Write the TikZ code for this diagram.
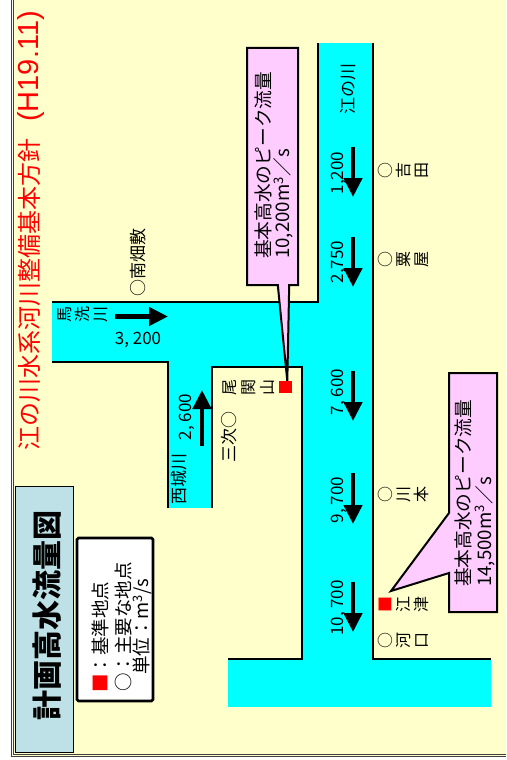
\documentclass[tikz,border=0pt]{standalone}
\usepackage{fontspec}
\setmainfont{Noto Sans CJK JP}
\newfontfamily\latinsans{Liberation Sans}
\usetikzlibrary{arrows.meta}
\definecolor{bgyellow}{HTML}{FFFFCC}
\definecolor{rivercyan}{HTML}{00FFFF}
\definecolor{calloutpink}{HTML}{FFCCFF}
\definecolor{titleblue}{HTML}{BDE1E6}
\definecolor{framegray}{HTML}{404040}
\definecolor{redmark}{HTML}{FF0000}
\tikzset{
  bank/.style={line width=2.6pt},
  callout/.style={draw=black, line width=2pt, fill=calloutpink, line join=miter},
  flow/.style={line width=4.5pt, -{Triangle[length=19pt,width=18pt]}},
  lbl/.style={rotate=90, inner sep=0pt, font=\fontsize{17}{17}\selectfont},
  num/.style={inner sep=0pt, font=\fontsize{17}{17}\selectfont},
  tate/.style={rotate=90, inner sep=0pt, align=center, font=\fontsize{16}{18}\selectfont},
  ctext/.style={rotate=90, inner sep=0pt, anchor=west, font=\fontsize{18.7}{18.7}\selectfont},
  leg/.style={rotate=90, inner sep=0pt, anchor=west, font=\fontsize{18.5}{18.5}\selectfont},
  redsq/.style={fill=redmark, inner sep=0pt, minimum size=12.5pt},
}
\begin{document}
\begin{tikzpicture}[x=1pt,y=-1pt]
\useasboundingbox (0,0) rectangle (506,760);
\fill[white] (0,0) rectangle (506,760);
\fill[bgyellow] (13,0) rectangle (506,755.5);
% frame
\draw[framegray, line width=1pt] (11.4,0) -- (11.4,756.8) -- (506,756.8);
\draw[framegray, line width=0.8pt] (13.8,0) -- (13.8,754.4) -- (506,754.4);

% rivers (water)
\fill[rivercyan] (318,43) rectangle (373,302);
\fill[rivercyan] (52,302) rectangle (373,362);
\fill[rivercyan] (168,362) rectangle (302,367);
\fill[rivercyan] (168,362) rectangle (212,508);
\fill[rivercyan] (302,302) rectangle (373,659);
\fill[rivercyan] (228,659) rectangle (491,707);
% banks
\draw[bank] (318,43) -- (318,302) -- (52,302);
\draw[bank] (52,362) -- (168,362) -- (168,508);
\draw[bank] (212,508) -- (212,367) -- (302,367) -- (302,659) -- (228,659);
\draw[bank] (373,43) -- (373,659) -- (491,659);

% title (red)
\node[rotate=90, anchor=west, inner sep=0pt, text=redmark, font=\fontsize{24}{24}\selectfont] (maintitle) at (31,451) {江の川水系河川整備基本方針\hspace{17pt}{\latinsans\fontsize{29}{29}\selectfont(H19.11)}};

% title box
\draw[fill=titleblue, draw=black, line width=0.8pt] (15,486) rectangle (73,752);
\node[rotate=90, inner sep=0pt, font=\fontsize{30}{30}\selectfont\bfseries] (figtitle) at (47,615) {計画高水流量図};

% legend
\draw[fill=white, draw=black, line width=2.6pt, rounded corners=1.5pt] (77,538) rectangle (153,701);
\node[leg] (leg1) at (100,693) {{\color{redmark}■}：基準地点};
\node[leg] (leg2) at (123.5,692) {○：主要な地点};
\node[leg] (leg3) at (142.5,675) {単位：m\textsuperscript{3}/s};

% callouts
\coordinate (tip1) at (287.3,381);
\coordinate (tip2) at (391,591);
\draw[callout] (247,48) -- (298,48) -- (298,285) -- (289.2,285) -- (tip1) -- (277.8,285) -- (247,285) -- cycle;
\draw[callout] (449,373) -- (497,373) -- (497,612) -- (449,612) -- (449,573) -- (tip2) -- (449,513) -- cycle;
\node[ctext] (c1a) at (263.5,259) {基本高水のピーク流量};
\node[ctext] (c1b) at (283.5,259) {10,200m\textsuperscript{3}／s};
\node[ctext] (c2a) at (463,587) {基本高水のピーク流量};
\node[ctext] (c2b) at (485,587) {14,500m\textsuperscript{3}／s};

% red reference point at Okanyama
\node[redsq] (sqokan) at (285.5,387) {};

% flow arrows
\draw[flow] (115,316.5) -- (168,316.5);
\draw[flow] (202,446) -- (202,390);
\draw[flow] (353,147) -- (353,197);
\draw[flow] (353,237) -- (353,287);
\draw[flow] (353,371) -- (353,421);
\draw[flow] (353,473) -- (353,524);
\draw[flow] (353,582) -- (353,632);

% river and flow labels
\node[lbl] (enokawa) at (348,89) {江の川};
\node[num] (q3200) at (138,339.5) {3, 200};
\node[lbl] (q2600) at (186.5,417) {2, 600};
\node[lbl] (saijo) at (179.5,479) {西城川};
\node[lbl] (q1200) at (338.5,173) {1,200};
\node[lbl] (q2750) at (338.5,262) {2,750};
\node[lbl] (q7600) at (338.5,392) {7, 600};
\node[lbl] (q9700) at (338.5,500) {9, 700};
\node[lbl] (q10700) at (338.5,608) {10, 700};

% place names
\node[lbl] (nanbata) at (138,262) {○南畑敷};
\node[lbl] (miyoshi) at (229.5,437) {三次○};
\node[tate] (basen) at (82.5,314) {馬\\洗\\川};
\node[tate, font=\fontsize{16}{19}\selectfont] (okan) at (249,387.5) {尾\\関\\山};
\node[tate] (yoshida) at (403,170) {○\\吉\\田};
\node[tate] (awaya) at (403,259) {○\\粟\\屋};
\node[tate] (kawamoto) at (403,494) {○\\川\\本};
\node[tate] (gotsu) at (404,604) {{\color{redmark}■}\\江\\津};
\node[tate] (kawaguchi) at (403,640) {○\\河\\口};
\end{tikzpicture}
\end{document}
